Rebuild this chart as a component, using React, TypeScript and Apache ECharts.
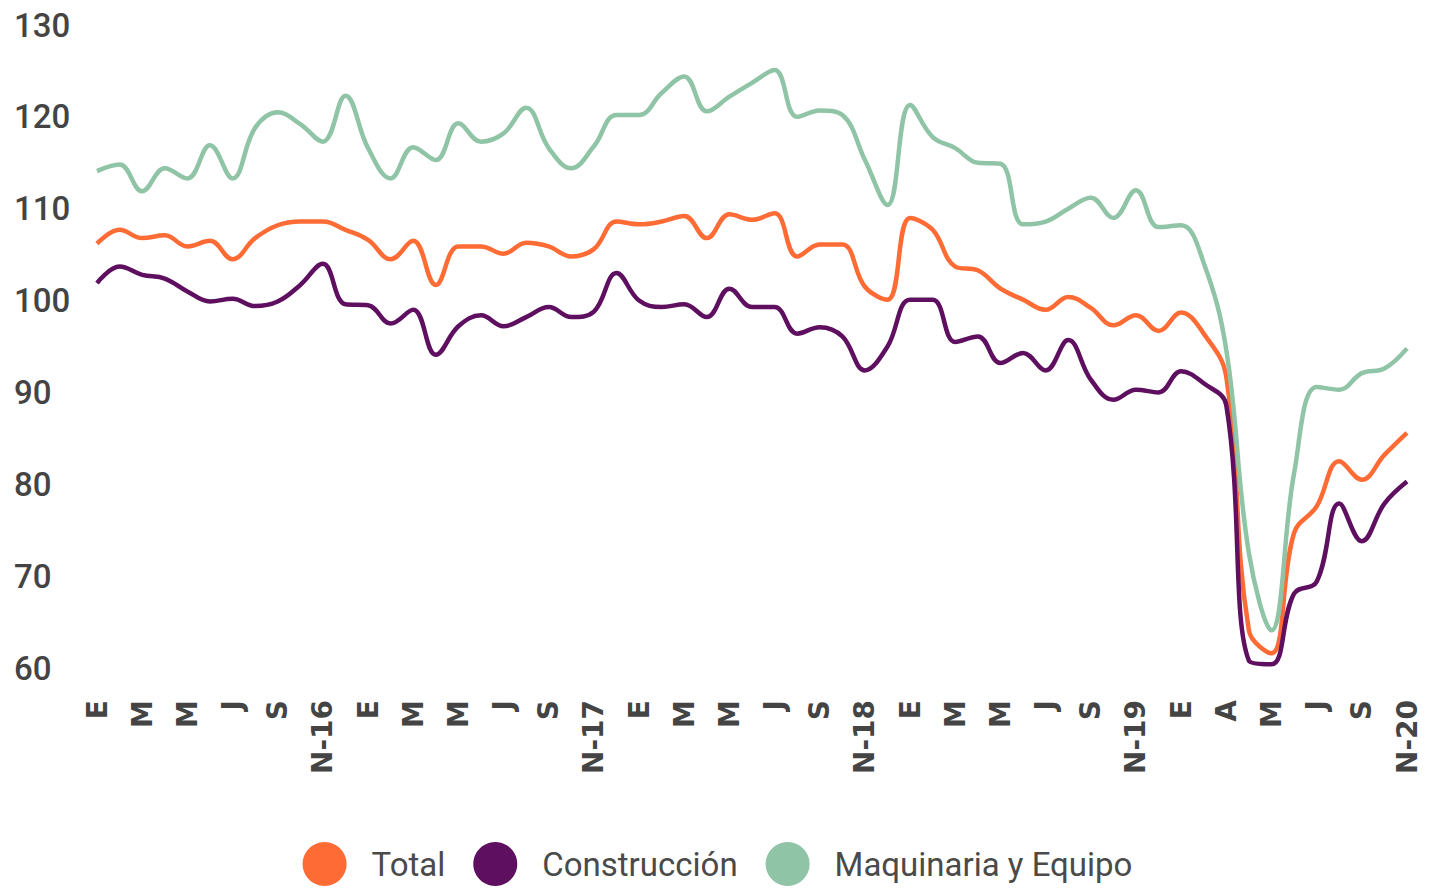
import React, { useEffect, useRef } from "react";
import * as echarts from "echarts";

const categories = [
  "E", "F", "M", "A", "M", "J", "J", "A", "S", "O", "N-16", "D",
  "E", "F", "M", "A", "M", "J", "J", "A", "S", "O", "N-17", "D",
  "E", "F", "M", "A", "M", "J", "J", "A", "S", "O", "N-18", "D",
  "E", "F", "M", "A", "M", "J", "J", "A", "S", "O", "N-19", "D",
  "E", "F", "A", "A", "M", "J", "J", "A", "S", "O", "N-20",
];

const total = [
  106.2, 107.7, 106.8, 107.1, 105.9, 106.5, 104.5, 106.8, 108.2, 108.6,
  108.6, 107.7, 106.6, 104.5, 106.5, 101.7, 105.9, 105.9, 105.1, 106.3,
  105.9, 104.8, 105.6, 108.6, 108.3, 108.6, 109.2, 106.8, 109.4, 108.8,
  109.5, 104.8, 106.1, 106.1, 101.5, 100.1, 109.0, 107.7, 103.7, 103.3,
  101.3, 100.1, 99.0, 100.4, 99.2, 97.3, 98.4, 96.7, 98.7, 96.4,
  91.7, 64.1, 61.6, 74.7, 77.6, 82.5, 80.5, 83.2, 85.6,
];

const construccion = [
  101.9, 103.7, 102.8, 102.4, 101.0, 99.9, 100.2, 99.4, 99.9, 101.7,
  104.0, 99.6, 99.5, 97.5, 99.0, 94.1, 97.2, 98.4, 97.2, 98.2,
  99.3, 98.2, 98.8, 103.0, 100.0, 99.3, 99.6, 98.2, 101.3, 99.3,
  99.3, 96.4, 97.1, 96.1, 92.4, 95.0, 100.1, 100.1, 95.5, 96.1,
  93.2, 94.3, 92.4, 95.7, 91.4, 89.2, 90.3, 90.0, 92.3, 91.0,
  88.6, 60.8, 60.4, 68.1, 69.4, 77.9, 73.8, 77.9, 80.3,
];

const maquinaria = [
  114.1, 114.8, 111.9, 114.4, 113.3, 116.9, 113.3, 118.8, 120.5, 119.2,
  117.3, 122.3, 116.6, 113.3, 116.7, 115.3, 119.3, 117.3, 118.2, 121.0,
  116.6, 114.4, 116.8, 120.2, 120.2, 122.6, 124.4, 120.6, 122.2, 123.7,
  125.1, 120.0, 120.7, 120.2, 115.3, 110.4, 121.3, 117.8, 116.6, 115.0,
  114.9, 108.3, 108.6, 110.0, 111.2, 109.0, 112.0, 108.0, 108.2, 104.1,
  94.6, 72.5, 64.1, 81.2, 90.6, 90.3, 92.1, 92.6, 94.8,
];

const seriesNames = ["Total", "Construcción", "Maquinaria y Equipo"];
const colors = ["#FF6B35", "#5E0F5F", "#90C4A6"];

export default function App() {
  const ref = useRef<HTMLDivElement>(null);
  useEffect(() => {
    if (!ref.current) return;
    const chart = echarts.init(ref.current, undefined, { renderer: "svg" });
    const datasets = [total, construccion, maquinaria];
    chart.setOption({
      animation: false,
      backgroundColor: "#ffffff",
      grid: { left: 97, right: 28, top: 25, bottom: 220, containLabel: false },
      legend: {
        left: "center",
        top: 842,
        padding: 0,
        icon: "circle",
        itemWidth: 44,
        itemHeight: 44,
        itemGap: 28,
        textStyle: {
          fontFamily: "Roboto",
          fontSize: 33,
          color: "#4a4a4a",
          padding: [0, 0, 0, 20],
        },
        data: seriesNames,
      },
      xAxis: {
        type: "category",
        boundaryGap: false,
        data: categories,
        axisLine: { show: false },
        axisTick: { show: false },
        axisLabel: {
          interval: 1,
          rotate: 90,
          margin: 32,
          fontFamily: "DejaVu Sans",
          fontWeight: "bold",
          fontSize: 28,
          color: "#444444",
        },
        splitLine: { show: false },
      },
      yAxis: {
        type: "value",
        min: 60,
        max: 130,
        interval: 10,
        axisLine: { show: false },
        axisTick: { show: false },
        splitLine: { show: false },
        axisLabel: {
          align: "left",
          margin: 83,
          fontFamily: "Roboto",
          fontWeight: 500,
          fontSize: 33,
          color: "#444444",
        },
      },
      series: datasets.map((d, i) => ({
        name: seriesNames[i],
        type: "line",
        data: d,
        smooth: 0.4,
        showSymbol: false,
        symbol: "none",
        lineStyle: { width: 4.5, color: colors[i] },
        itemStyle: { color: colors[i] },
      })),
    });
    return () => chart.dispose();
  }, []);
  return (
    <div
      ref={ref}
      style={{ position: "fixed", left: 0, top: 0, width: 1435, height: 888 }}
    />
  );
}
